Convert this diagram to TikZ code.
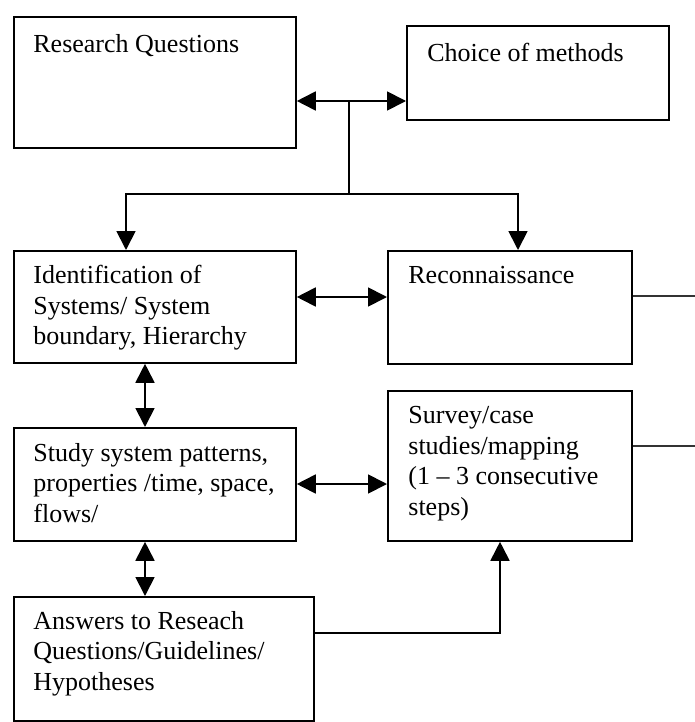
\documentclass[tikz,border=0pt]{standalone}
\usepackage{fontspec}
\setmainfont{Liberation Serif}
\usetikzlibrary{arrows.meta, positioning, calc}

\begin{document}
\begin{tikzpicture}[
    x=0.5pt, y=-0.5pt,
    box/.style={rectangle, draw=black, fill=white, line width=0.9pt, anchor=north west, inner sep=0pt},
    txt/.style={inner sep=0pt, align=left, font=\fontsize{13}{15.25}\selectfont},
    link/.style={line width=0.9pt, draw=black},
    thin/.style={line width=0.6pt, draw=black!80},
    biarrow/.style={link, {Triangle[length=9.5pt, width=9.5pt]}-{Triangle[length=9.5pt, width=9.5pt]}},
    onearrow/.style={link, -{Triangle[length=9.5pt, width=9.5pt]}}
  ]
    \useasboundingbox (0,0) rectangle (695,722);

    % Top Row
    \node[box, minimum width=141pt, minimum height=65.5pt] (rq) at (13,16) {};
    \node[txt, below right=9pt and 10pt of rq.north west] (rqtext) {Research Questions};
    \node[box, minimum width=131pt, minimum height=47pt] (choice) at (406,25) {};
    \node[txt, below right=9pt and 10.5pt of choice.north west] (choicetext) {Choice of methods};

    % Middle Rows
    \node[box, minimum width=141pt, minimum height=56pt] (id) at (13,250) {};
    \node[txt, below right=7.5pt and 10pt of id.north west] (idtext) {Identification of\\Systems/ System\\boundary, Hierarchy};
    \node[box, minimum width=122pt, minimum height=56.5pt] (recon) at (387,250) {};
    \node[txt, below right=8pt and 10.5pt of recon.north west] (recontext) {Reconnaissance};
    \node[box, minimum width=141pt, minimum height=56.5pt] (study) at (13,427) {};
    \node[txt, below right=8pt and 10pt of study.north west] (studytext) {Study system patterns,\\properties /time, space,\\flows/};
    \node[box, minimum width=122pt, minimum height=75pt] (survey) at (387,390) {};
    \node[txt, below right=8pt and 10.5pt of survey.north west] (surveytext) {Survey/case\\studies/mapping\\(1 – 3 consecutive\\steps)};

    % Bottom Row
    \node[box, minimum width=150pt, minimum height=62pt] (ans) at (13,596) {};
    \node[txt, below right=7.5pt and 10pt of ans.north west] (anstext) {Answers to Reseach\\Questions/Guidelines/\\Hypotheses};

    % Junctions and free ends
    \coordinate (topjoin) at (349,101);
    \coordinate (fork) at (349,194);
    \coordinate (reconout) at (695,296);
    \coordinate (surveyout) at (695,446);

    % Connectors
    \draw[biarrow] (rq.east |- topjoin) -- (choice.west |- topjoin);
    \draw[link] (topjoin) -- (fork);
    \draw[onearrow] (fork) -| ($(id.north west)+(113,0)$);
    \draw[onearrow] (fork) -| ($(recon.north west)+(131,0)$);
    \draw[biarrow] ($(id.north east)+(0,47)$) -- ($(recon.north west)+(0,47)$);
    \draw[biarrow] ($(id.south west)+(132,0)$) -- ($(study.north west)+(132,0)$);
    \draw[biarrow] ($(study.north east)+(0,57)$) -- ($(survey.north west)+(0,94)$);
    \draw[biarrow] ($(study.south west)+(132,0)$) -- ($(ans.north west)+(132,0)$);
    \draw[onearrow] ($(ans.north east)+(0,37)$) -| ($(survey.south west)+(113,0)$);
    \draw[thin] ($(recon.north east)+(0,46)$) -- (reconout);
    \draw[thin] ($(survey.north east)+(0,56)$) -- (surveyout);
  \end{tikzpicture}
\end{document}
